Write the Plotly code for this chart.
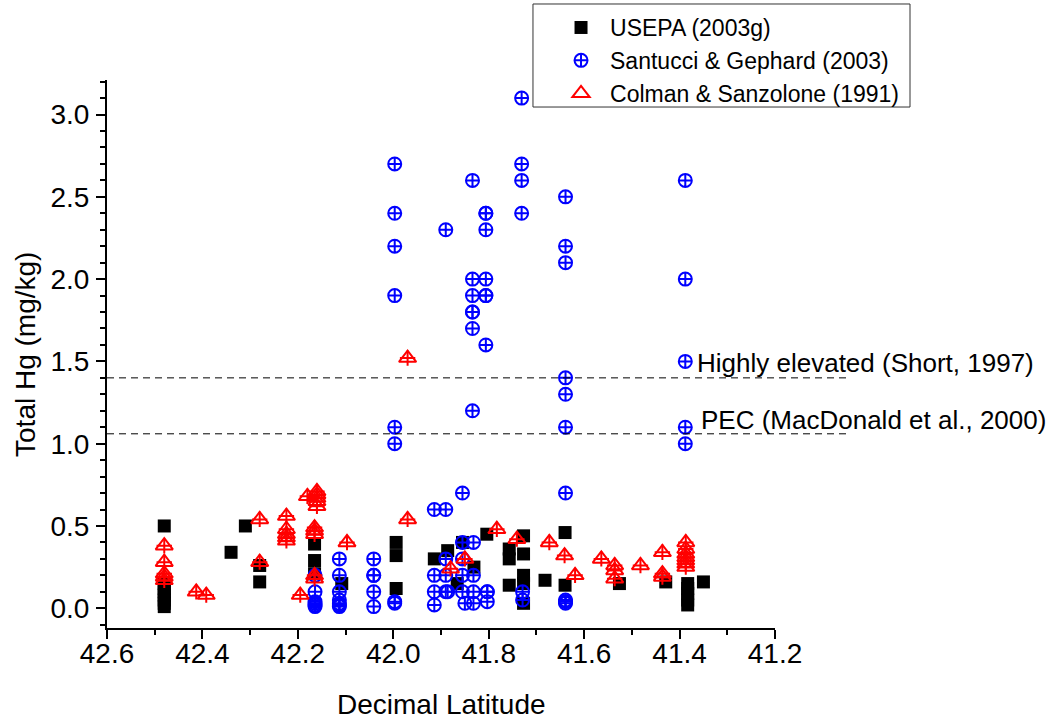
import plotly.graph_objects as go

# ---------------- data ----------------
usepa_lat = [42.48, 42.48, 42.48, 42.48, 42.48, 42.48, 42.48, 42.48,
             42.34, 42.31, 42.28, 42.28,
             42.165, 42.165, 42.165, 42.108,
             41.994, 41.994, 41.994,
             41.914, 41.886, 41.866, 41.855, 41.831, 41.804,
             41.757, 41.757, 41.757,
             41.727, 41.727, 41.727, 41.727, 41.727,
             41.682, 41.64, 41.64, 41.526, 41.429,
             41.383, 41.383, 41.383, 41.383, 41.383, 41.35]
usepa_hg = [0.50, 0.15, 0.12, 0.10, 0.08, 0.05, 0.03, 0.01,
            0.34, 0.50, 0.26, 0.16,
            0.39, 0.29, 0.21, 0.15,
            0.40, 0.32, 0.12,
            0.30, 0.35, 0.15, 0.40, 0.25, 0.45,
            0.36, 0.30, 0.14,
            0.44, 0.33, 0.20, 0.15, 0.03,
            0.17, 0.46, 0.14, 0.15, 0.16,
            0.15, 0.12, 0.09, 0.05, 0.02, 0.16]

sant_lat = [42.164, 42.164, 42.164, 42.164, 42.164, 42.164,
            42.113, 42.113, 42.113, 42.113, 42.113, 42.113, 42.113,
            42.041, 42.041, 42.041, 42.041, 42.041,
            41.997, 41.997, 41.997, 41.997, 41.997, 41.997, 41.997, 41.997,
            41.914, 41.914, 41.914, 41.914,
            41.89, 41.89, 41.89, 41.89, 41.89, 41.886,
            41.855, 41.855, 41.855, 41.855, 41.855, 41.85,
            41.834, 41.834, 41.834, 41.834, 41.834, 41.834, 41.834, 41.832, 41.832, 41.832, 41.832,
            41.806, 41.806, 41.806, 41.806, 41.806, 41.806, 41.806, 41.803, 41.803, 41.803,
            41.731, 41.731, 41.731, 41.731, 41.729, 41.729,
            41.639, 41.639, 41.639, 41.639, 41.639, 41.639, 41.639, 41.639, 41.639, 41.639,
            41.388, 41.388, 41.388, 41.388, 41.388]
sant_hg = [0.20, 0.10, 0.04, 0.03, 0.02, 0.01,
           0.30, 0.20, 0.10, 0.05, 0.03, 0.02, 0.01,
           0.30, 0.20, 0.20, 0.10, 0.01,
           2.70, 2.40, 2.20, 1.90, 1.10, 1.00, 0.04, 0.03,
           0.60, 0.20, 0.10, 0.02,
           2.30, 0.60, 0.30, 0.20, 0.10, 0.10,
           0.70, 0.40, 0.30, 0.20, 0.10, 0.03,
           2.60, 2.00, 1.90, 1.80, 1.80, 1.70, 1.20, 0.40, 0.20, 0.10, 0.03,
           2.40, 2.40, 2.30, 2.00, 1.90, 1.90, 1.60, 0.10, 0.10, 0.04,
           3.10, 2.70, 2.60, 2.40, 0.10, 0.05,
           2.50, 2.20, 2.10, 1.40, 1.30, 1.10, 0.70, 0.05, 0.04, 0.03,
           2.60, 2.00, 1.50, 1.10, 1.00]

colman_lat = [42.48, 42.48, 42.48, 42.48, 42.48,
              42.413, 42.392, 42.28, 42.28,
              42.224, 42.224, 42.224, 42.224, 42.224,
              42.195, 42.18,
              42.16, 42.16, 42.16, 42.16, 42.16, 42.165, 42.165, 42.165, 42.165, 42.165,
              42.097, 41.97, 41.97,
              41.88, 41.85, 41.783, 41.741, 41.673, 41.641, 41.619, 41.564,
              41.536, 41.536, 41.536, 41.482,
              41.436, 41.436, 41.436,
              41.387, 41.387, 41.387, 41.387, 41.387, 41.387, 41.387]
colman_hg = [0.38, 0.28, 0.21, 0.19, 0.17,
             0.10, 0.08, 0.54, 0.28,
             0.56, 0.48, 0.45, 0.43, 0.41,
             0.08, 0.68,
             0.71, 0.69, 0.67, 0.65, 0.62, 0.49, 0.47, 0.45, 0.20, 0.18,
             0.40, 0.54, 1.52,
             0.24, 0.30, 0.48, 0.42, 0.40, 0.32, 0.20, 0.30,
             0.26, 0.23, 0.18, 0.26,
             0.34, 0.21, 0.19,
             0.40, 0.36, 0.33, 0.31, 0.29, 0.27, 0.25]

ref_levels = [1.40, 1.06]
ref_labels = ["Highly elevated (Short, 1997)", "PEC (MacDonald et al., 2000)"]
series_names = ["USEPA (2003g)", "Santucci & Gephard (2003)", "Colman & Sanzolone (1991)"]
x_title = "Decimal Latitude"
y_title = "Total Hg (mg/kg)"

FONT = "Liberation Sans, Arial, sans-serif"

fig = go.Figure()
fig.add_trace(go.Scatter(x=usepa_lat, y=usepa_hg, mode="markers", name=series_names[0],
                         marker=dict(symbol="square", size=13, color="black", line=dict(width=0))))
fig.add_trace(go.Scatter(x=sant_lat, y=sant_hg, mode="markers", name=series_names[1],
                         marker=dict(symbol="circle-cross-open", size=13, color="#0000ff",
                                     line=dict(width=2, color="#0000ff"))))
fig.add_trace(go.Scatter(x=colman_lat, y=colman_hg, mode="markers", name=series_names[2],
                         marker=dict(symbol="triangle-up-open", size=15, color="#ff0000",
                                     line=dict(width=2, color="#ff0000"))))
fig.add_trace(go.Scatter(x=colman_lat, y=colman_hg, mode="markers", showlegend=False,
                         hoverinfo="skip",
                         marker=dict(symbol="cross-thin-open", size=11, color="#ff0000",
                                     line=dict(width=2, color="#ff0000"))))

# reference (threshold) lines extending past the plot area
x_end = 1.112
for lvl in ref_levels:
    fig.add_shape(type="line", xref="paper", yref="y", x0=0, x1=x_end, y0=lvl, y1=lvl,
                  line=dict(color="black", width=1, dash="7px,5px"))

fig.add_annotation(text=ref_labels[0], xref="paper", yref="y", x=0.880, y=1.49,
                   xanchor="left", yanchor="middle", showarrow=False,
                   font=dict(family=FONT, size=26, color="black"))
fig.add_annotation(text=ref_labels[1], xref="paper", yref="y", x=0.886, y=1.143,
                   xanchor="left", yanchor="middle", showarrow=False,
                   font=dict(family=FONT, size=26, color="black"))

# axis titles
fig.add_annotation(text=x_title, xref="paper", yref="paper", x=0.5, y=-0.1387,
                   xanchor="center", yanchor="middle", showarrow=False,
                   font=dict(family=FONT, size=28, color="black"))
fig.add_annotation(text=y_title, xref="paper", yref="paper", x=-0.1228, y=0.5,
                   xanchor="center", yanchor="middle", showarrow=False, textangle=-90,
                   font=dict(family=FONT, size=28, color="black"))

# legend frame
fig.add_shape(type="rect", xref="paper", yref="paper",
              x0=0.6377, x1=1.2021, y0=0.9507, y1=1.1387,
              line=dict(color="#333333", width=1), fillcolor="white", layer="above")

axis_common = dict(showline=True, linecolor="black", linewidth=2, mirror=False,
                   ticks="outside", ticklen=9, tickwidth=2, tickcolor="black",
                   showgrid=False, zeroline=False, automargin=False,
                   tickfont=dict(family=FONT, size=28, color="black"))

fig.update_xaxes(range=[42.6, 41.2], dtick=0.2, tick0=0, tickformat=".1f",
                 ticklabelstandoff=-10,
                 minor=dict(dtick=0.1, ticks="outside", ticklen=5, tickwidth=2, tickcolor="black"),
                 **axis_common)
fig.update_yaxes(range=[-0.12, 3.21], dtick=0.5, tick0=0, tickformat=".1f",
                 ticklabelstandoff=1,
                 minor=dict(dtick=0.1, ticks="outside", ticklen=5, tickwidth=2, tickcolor="black"),
                 **axis_common)

fig.update_layout(
    width=1050, height=723,
    margin=dict(l=107, r=275, t=80, b=95, autoexpand=False),
    paper_bgcolor="white", plot_bgcolor="white",
    font=dict(family=FONT, color="black"),
    legend=dict(x=0.6662, y=1.135, xanchor="left", yanchor="top",
                bgcolor="rgba(0,0,0,0)", borderwidth=0,
                font=dict(family=FONT, size=23, color="black"), itemwidth=48),
    showlegend=True,
)

fig.write_html("out.html")
